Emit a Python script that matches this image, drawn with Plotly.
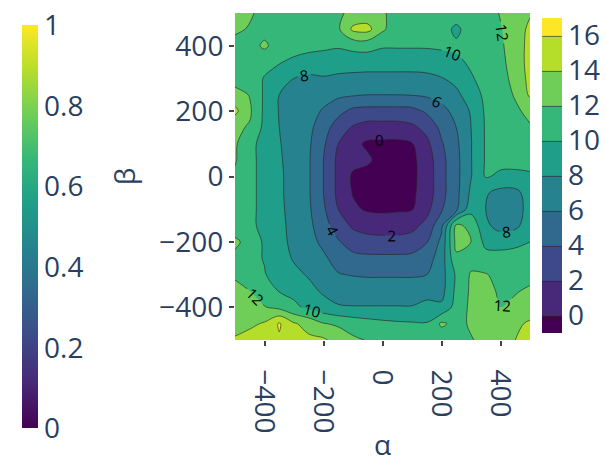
import plotly.graph_objects as go

alpha_vals = [-500, -450, -400, -350, -300, -250, -200, -150, -100, -50, 0,
              50, 100, 150, 200, 250, 300, 350, 400, 450, 500]
beta_vals = [-500, -450, -400, -350, -300, -250, -200, -150, -100, -50, 0,
             50, 100, 150, 200, 250, 300, 350, 400, 450, 500]

# rows: beta = -500 ... 500 ; columns: alpha = -500 ... 500
z_rows = [
    [14.3, 14.8, 15.3, 15.8, 15.0, 14.4, 14.3, 13.2, 12.3, 11.9, 11.6, 11.3, 10.8, 10.8, 10.9, 11.0, 11.9, 12.4, 12.8, 14.0, 14.8],
    [13.0, 13.6, 14.2, 16.2, 14.2, 13.3, 12.1, 11.7, 11.2, 10.8, 10.5, 10.3, 10.2, 10.1, 12.3, 11.5, 12.2, 12.5, 12.6, 13.6, 14.3],
    [12.5, 12.3, 12.1, 11.5, 10.4, 9.6, 8.8, 8.2, 8.1, 8.1, 8.1, 8.1, 8.1, 8.8, 8.4, 10.8, 12.4, 12.4, 12.0, 12.3, 12.9],
    [12.4, 12.0, 11.0, 9.9, 9.5, 8.6, 7.7, 7.1, 7.0, 7.0, 7.0, 7.0, 7.0, 7.0, 7.3, 10.5, 12.3, 12.4, 11.8, 11.9, 12.2],
    [11.8, 10.6, 10.1, 9.2, 8.5, 7.8, 6.7, 6.1, 5.9, 5.8, 5.8, 5.8, 5.8, 6.0, 7.2, 10.3, 12.2, 12.1, 11.5, 11.5, 11.6],
    [11.5, 10.5, 9.9, 8.9, 7.8, 7.1, 6.3, 5.3, 4.6, 4.4, 4.4, 4.4, 4.5, 5.1, 7.0, 11.6, 11.2, 10.8, 11.0, 11.2, 11.3],
    [12.4, 11.3, 9.7, 8.6, 7.5, 6.6, 5.6, 4.2, 3.0, 2.8, 2.7, 2.7, 2.9, 3.9, 6.5, 12.6, 12.0, 9.4, 9.0, 9.3, 10.0],
    [11.0, 10.4, 9.5, 8.5, 7.4, 6.5, 4.8, 3.0, 1.7, 1.1, 1.0, 1.0, 1.4, 2.6, 5.5, 12.4, 11.5, 8.3, 7.4, 7.6, 8.9],
    [11.0, 10.4, 9.5, 8.4, 7.3, 6.3, 4.3, 2.0, 0.3, -0.2, -0.3, -0.2, -0.1, 1.4, 3.8, 5.5, 9.3, 8.0, 7.2, 7.3, 8.6],
    [11.0, 10.4, 9.5, 8.3, 7.3, 6.2, 4.0, 1.5, -0.1, -0.7, -0.8, -0.7, -0.3, 0.8, 3.4, 5.4, 8.4, 8.2, 7.4, 7.5, 8.8],
    [11.6, 10.4, 9.5, 8.3, 7.3, 6.2, 4.0, 1.5, -0.3, -0.7, -1.0, -0.8, -0.4, 0.8, 3.4, 5.4, 7.9, 10.2, 9.6, 9.4, 9.6],
    [12.2, 10.4, 9.5, 8.2, 7.3, 6.2, 4.0, 1.5, 0.6, 0.3, -0.7, -0.7, -0.4, 0.9, 3.4, 5.4, 7.9, 10.2, 10.6, 10.8, 10.9],
    [12.3, 10.4, 9.5, 8.1, 7.3, 6.3, 4.3, 2.0, 0.5, -0.3, -0.4, -0.4, -0.1, 1.5, 3.8, 5.6, 7.9, 10.2, 10.9, 11.2, 11.3],
    [12.4, 11.8, 9.5, 8.0, 7.4, 6.5, 4.9, 3.0, 1.8, 1.2, 1.2, 1.2, 1.6, 2.6, 4.5, 6.0, 8.0, 10.2, 10.9, 11.2, 11.8],
    [14.5, 12.3, 9.6, 7.9, 7.3, 6.7, 5.8, 4.6, 3.5, 3.3, 3.3, 3.3, 3.4, 4.3, 5.5, 6.5, 8.2, 10.3, 11.0, 11.6, 12.6],
    [12.8, 11.9, 9.7, 8.0, 7.4, 7.3, 6.7, 6.4, 6.2, 6.0, 6.0, 6.0, 6.1, 6.3, 6.6, 7.6, 8.9, 10.5, 11.0, 12.2, 14.3],
    [11.1, 10.8, 9.9, 9.3, 8.0, 7.6, 7.8, 7.6, 7.5, 7.4, 7.4, 7.4, 7.4, 7.5, 7.9, 8.5, 9.8, 10.7, 11.3, 12.6, 14.6],
    [11.2, 11.0, 10.5, 10.1, 9.7, 9.3, 9.3, 9.0, 8.9, 8.9, 8.9, 8.9, 8.9, 9.0, 9.2, 9.6, 10.3, 11.0, 11.5, 12.9, 14.7],
    [11.2, 11.1, 12.4, 10.9, 10.6, 10.5, 10.3, 10.2, 10.6, 10.7, 10.2, 10.2, 10.2, 10.2, 10.3, 10.4, 10.8, 11.1, 11.7, 13.0, 14.6],
    [12.4, 11.8, 11.2, 11.1, 11.1, 11.0, 11.0, 11.7, 14.4, 14.6, 12.3, 10.9, 10.9, 10.9, 11.0, 9.5, 11.1, 11.2, 11.9, 12.8, 14.5],
    [12.6, 12.3, 11.3, 11.3, 11.2, 11.2, 11.2, 11.6, 12.6, 12.8, 12.2, 11.4, 11.2, 11.2, 11.2, 11.2, 11.3, 11.3, 12.1, 12.5, 13.8],
]

W, H = 606, 463
FONT = "Open Sans"
TXT = "#2a3f5f"

fig = go.Figure()
fig.add_trace(go.Contour(
    x=alpha_vals, y=beta_vals, z=z_rows,
    colorscale="Viridis",
    contours=dict(start=0, end=16, size=2, showlabels=True,
                  labelfont=dict(size=15, color="black", family=FONT)),
    line=dict(width=0.8, color="rgba(40,40,40,0.8)"),
    colorbar=dict(xref="container", yref="container",
                  x=542 / W, xanchor="left", y=1 - 25 / H, yanchor="top",
                  lenmode="pixels", len=315, thickness=20,
                  xpad=0, ypad=0, outlinewidth=0, tick0=0, dtick=2,
                  tickfont=dict(size=28, family=FONT, color=TXT)),
))
fig.add_trace(go.Scatter(
    x=[None, None], y=[None, None], mode="markers",
    marker=dict(color=[0, 1], colorscale="Viridis", cmin=0, cmax=1,
                showscale=True,
                colorbar=dict(xref="container", yref="container",
                              x=22 / W, xanchor="left", y=1 - 36 / H, yanchor="top",
                              lenmode="pixels", len=403, thickness=16,
                              xpad=0, ypad=0, outlinewidth=0, dtick=0.2,
                              tickfont=dict(size=28, family=FONT, color=TXT))),
    showlegend=False, hoverinfo="skip",
))

fig.update_layout(
    width=W, height=H,
    margin=dict(l=235, r=76, t=13, b=123, autoexpand=False),
    paper_bgcolor="white",
    font=dict(family=FONT, size=28, color=TXT),
    showlegend=False,
    xaxis=dict(title=dict(text="α", font=dict(size=28), standoff=26),
               range=[-500, 500],
               tickangle=90, ticks="outside", ticklen=5, tickwidth=2,
               tickcolor="#444", showgrid=False, zeroline=False,
               ticklabelstandoff=18, automargin=False,
               tickvals=[-400, -200, 0, 200, 400]),
    yaxis=dict(title=dict(text="β", font=dict(size=28)), range=[-500, 500],
               ticks="outside", ticklen=5, tickwidth=2, tickcolor="#444",
               showgrid=False, zeroline=False, automargin=False,
               tickvals=[-400, -200, 0, 200, 400]),
)

fig.write_html("out.html")
